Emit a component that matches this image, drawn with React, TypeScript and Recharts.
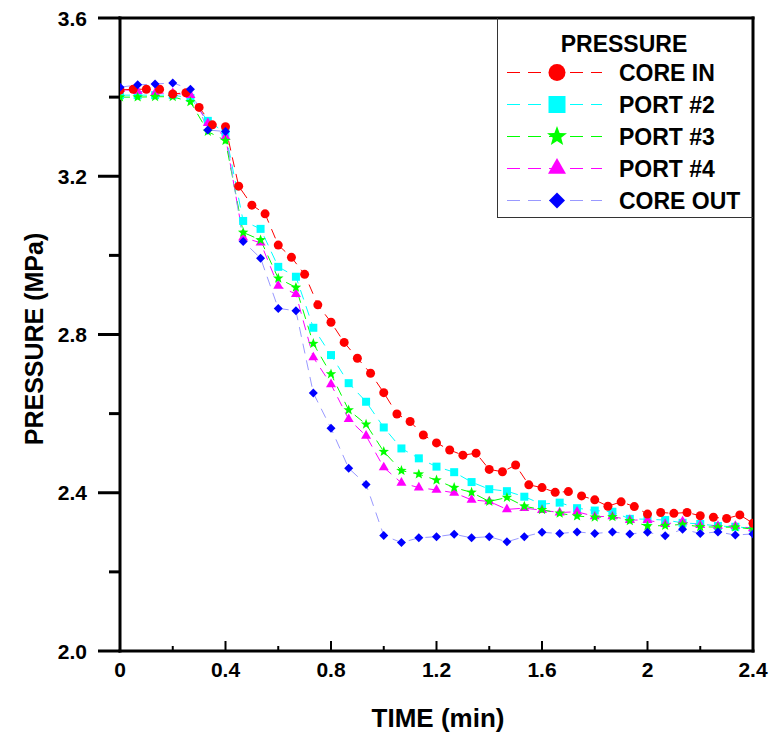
import { LineChart, Line, XAxis, YAxis, Legend, ReferenceLine, Label } from 'recharts';

// time axis of the CORE IN logger (every 3 s) and of the port loggers (every 4 s), min
const coreInTime = [
  0, 0.05, 0.1, 0.15, 0.2, 0.25, 0.3, 0.35, 0.4, 0.45, 0.5, 0.55, 0.6, 0.65, 0.7, 0.75, 0.8,
  0.85, 0.9, 0.95, 1.0, 1.05, 1.1, 1.15, 1.2, 1.25, 1.3, 1.35, 1.4, 1.45, 1.5, 1.55, 1.6,
  1.65, 1.7, 1.75, 1.8, 1.85, 1.9, 1.95, 2.0, 2.05, 2.1, 2.15, 2.2, 2.25, 2.3, 2.35, 2.4,
];
const portTime = [
  0, 0.067, 0.133, 0.2, 0.267, 0.333, 0.4, 0.467, 0.533, 0.6, 0.667, 0.733, 0.8, 0.867,
  0.933, 1.0, 1.067, 1.133, 1.2, 1.267, 1.333, 1.4, 1.467, 1.533, 1.6, 1.667, 1.733, 1.8,
  1.867, 1.933, 2.0, 2.067, 2.133, 2.2, 2.267, 2.333, 2.4,
];

// pressures, MPa
const coreIn = [
  3.418, 3.42, 3.42, 3.42, 3.408, 3.411, 3.374, 3.33, 3.325, 3.175, 3.127, 3.105, 3.026,
  2.995, 2.952, 2.875, 2.831, 2.78, 2.74, 2.702, 2.653, 2.599, 2.58, 2.546, 2.526, 2.508,
  2.495, 2.5, 2.459, 2.453, 2.47, 2.42, 2.413, 2.401, 2.403, 2.392, 2.382, 2.366, 2.377,
  2.365, 2.346, 2.35, 2.348, 2.35, 2.342, 2.338, 2.335, 2.344, 2.323,
];
const port2 = [
  3.405, 3.405, 3.405, 3.405, 3.398, 3.34, 3.31, 3.087, 3.067, 2.971, 2.946, 2.817, 2.748,
  2.677, 2.63, 2.565, 2.512, 2.487, 2.466, 2.452, 2.427, 2.409, 2.404, 2.39, 2.371, 2.375,
  2.361, 2.355, 2.352, 2.334, 2.333, 2.331, 2.324, 2.321, 2.316, 2.314, 2.31,
];
const port3 = [
  3.4, 3.4, 3.401, 3.401, 3.388, 3.313, 3.29, 3.058, 3.039, 2.942, 2.919, 2.777, 2.7, 2.609,
  2.573, 2.504, 2.456, 2.447, 2.432, 2.413, 2.401, 2.378, 2.388, 2.366, 2.357, 2.348, 2.341,
  2.338, 2.339, 2.329, 2.316, 2.317, 2.32, 2.314, 2.313, 2.313, 2.308,
];
const port4 = [
  3.42, 3.415, 3.41, 3.41, 3.405, 3.334, 3.3, 3.045, 3.032, 2.923, 2.902, 2.742, 2.674,
  2.586, 2.544, 2.464, 2.425, 2.413, 2.407, 2.4, 2.382, 2.378, 2.358, 2.361, 2.356, 2.35,
  2.352, 2.34, 2.34, 2.331, 2.331, 2.321, 2.327, 2.318, 2.316, 2.316, 2.31,
];
const coreOut = [
  3.425, 3.431, 3.433, 3.436, 3.42, 3.317, 3.313, 3.035, 2.993, 2.866, 2.86, 2.652, 2.563,
  2.462, 2.421, 2.292, 2.274, 2.286, 2.289, 2.295, 2.286, 2.289, 2.276, 2.289, 2.3, 2.297,
  2.301, 2.297, 2.301, 2.296, 2.3, 2.291, 2.308, 2.297, 2.301, 2.293, 2.296,
];

const xTicks = [0, 0.2, 0.4, 0.6, 0.8, 1.0, 1.2, 1.4, 1.6, 1.8, 2.0, 2.2, 2.4];
const xTickLabels = ['0', '', '0.4', '', '0.8', '', '1.2', '', '1.6', '', '2', '', '2.4'];
const yTicks = [2.0, 2.2, 2.4, 2.6, 2.8, 3.0, 3.2, 3.4, 3.6];
const yTickLabels = ['2.0', '', '2.4', '', '2.8', '', '3.2', '', '3.6'];

const FONT = '"Liberation Sans", Arial, Helvetica, sans-serif';

const toPoints = (times: number[], values: number[]) =>
  times.map((t, i) => ({ t, p: values[i] }));

// legend order
const series = [
  { name: 'CORE IN', data: toPoints(coreInTime, coreIn), color: '#ff0000', line: '#ff0000', shape: 'circle' },
  { name: 'PORT #2', data: toPoints(portTime, port2), color: '#00ffff', line: '#00ffff', shape: 'square' },
  { name: 'PORT #3', data: toPoints(portTime, port3), color: '#00ff00', line: '#00ff00', shape: 'star' },
  { name: 'PORT #4', data: toPoints(portTime, port4), color: '#ff00ff', line: '#ff00ff', shape: 'triangle' },
  { name: 'CORE OUT', data: toPoints(portTime, coreOut), color: '#0000ff', line: '#9999ff', shape: 'diamond' },
];
// drawing order (last on top)
const drawOrder = ['PORT #2', 'PORT #4', 'PORT #3', 'CORE IN', 'CORE OUT'];

const plotSize: Record<string, number> = { circle: 9, square: 8, star: 11, triangle: 10, diamond: 9 };
const legendSize: Record<string, number> = { circle: 17, square: 17, star: 21, triangle: 18, diamond: 16 };

function Marker({ shape, cx, cy, size, fill }: any) {
  if (cx == null || cy == null) return null;
  const r = size / 2;
  if (shape === 'circle') return <circle cx={cx} cy={cy} r={r} fill={fill} />;
  if (shape === 'square') return <rect x={cx - r} y={cy - r} width={size} height={size} fill={fill} />;
  if (shape === 'diamond')
    return <path d={`M${cx},${cy - r}L${cx + r},${cy}L${cx},${cy + r}L${cx - r},${cy}Z`} fill={fill} />;
  if (shape === 'triangle') {
    const h = size * 0.866;
    return (
      <path
        d={`M${cx},${cy - (2 * h) / 3}L${cx + r},${cy + h / 3}L${cx - r},${cy + h / 3}Z`}
        fill={fill}
      />
    );
  }
  // star
  let d = '';
  for (let i = 0; i < 10; i++) {
    const rr = i % 2 === 0 ? r : r * 0.42;
    const a = -Math.PI / 2 + (i * Math.PI) / 5;
    d += `${i === 0 ? 'M' : 'L'}${cx + rr * Math.cos(a)},${cy + rr * Math.sin(a)}`;
  }
  return <path d={d + 'Z'} fill={fill} />;
}

const YTick = ({ x, y, index }: any) => {
  const label = yTickLabels[index];
  const len = label ? 22 : 11;
  return (
    <g>
      <line x1={x - len} y1={y} x2={x} y2={y} stroke="#000" strokeWidth={3} />
      {label && (
        <text x={x - 33} y={y} textAnchor="end" dominantBaseline="central"
          fontFamily={FONT} fontWeight="bold" fontSize={21} fill="#000">
          {label}
        </text>
      )}
    </g>
  );
};

const XTick = ({ x, y, index }: any) => {
  const label = xTickLabels[index];
  const len = label ? 10 : 5;
  return (
    <g>
      <line x1={x} y1={y} x2={x} y2={y - len} stroke="#000" strokeWidth={2} />
      {label && (
        <text x={x} y={y + 18} textAnchor="middle" dominantBaseline="central"
          fontFamily={FONT} fontWeight="bold" fontSize={21} fill="#000">
          {label}
        </text>
      )}
    </g>
  );
};

const LegendBox = () => (
  <svg width={256} height={201} style={{ display: 'block' }}>
    <line x1={0.5} y1={0} x2={0.5} y2={200} stroke="#333" strokeWidth={1} />
    <line x1={0} y1={199.5} x2={256} y2={199.5} stroke="#333" strokeWidth={1} />
    <text x={127} y={26} textAnchor="middle" dominantBaseline="central"
      fontFamily={FONT} fontWeight="bold" fontSize={23} fill="#000">
      PRESSURE
    </text>
    {series.map((s, i) => {
      const cy = 54.5 + i * 32;
      return (
        <g key={s.name}>
          <line x1={10} y1={cy} x2={105} y2={cy} stroke={s.line} strokeWidth={1} strokeDasharray="13 8" />
          <Marker shape={s.shape} cx={60} cy={cy} size={legendSize[s.shape]} fill={s.color} />
          <text x={122} y={cy} dominantBaseline="central"
            fontFamily={FONT} fontWeight="bold" fontSize={23} fill="#000">
            {s.name}
          </text>
        </g>
      );
    })}
  </svg>
);

export default function App() {
  return (
    <div style={{ position: 'absolute', left: 0, top: 0, background: '#fff' }}>
      <LineChart width={771} height={737} margin={{ top: 18, right: 18, left: 0, bottom: 0 }}>
        <XAxis
          dataKey="t"
          type="number"
          domain={[0, 2.4]}
          ticks={xTicks}
          interval={0}
          allowDataOverflow
          height={86}
          tickSize={0}
          tickMargin={0}
          tickLine={false}
          tick={<XTick />}
          axisLine={{ stroke: '#000', strokeWidth: 3, strokeLinecap: 'square' }}
        >
          <Label
            content={() => (
              <text x={438} y={718} textAnchor="middle" dominantBaseline="central"
                fontFamily={FONT} fontWeight="bold" fontSize={26} fill="#000">
                TIME (min)
              </text>
            )}
          />
        </XAxis>
        <YAxis
          type="number"
          domain={[2.0, 3.6]}
          ticks={yTicks}
          interval={0}
          allowDataOverflow
          width={120}
          tickSize={0}
          tickMargin={0}
          tickLine={false}
          tick={<YTick />}
          axisLine={{ stroke: '#000', strokeWidth: 3, strokeLinecap: 'square' }}
        >
          <Label
            content={() => (
              <text x={34} y={339} textAnchor="middle" dominantBaseline="central"
                transform="rotate(-90, 34, 339)"
                fontFamily={FONT} fontWeight="bold" fontSize={25} fill="#000">
                PRESSURE (MPa)
              </text>
            )}
          />
        </YAxis>
        <ReferenceLine y={3.6} stroke="#000" strokeWidth={3} strokeLinecap="square" />
        <ReferenceLine x={2.4} stroke="#000" strokeWidth={3} strokeLinecap="square" />
        {drawOrder.map((n) => {
          const s = series.find((q) => q.name === n)!;
          return (
            <Line
              key={s.name}
              data={s.data}
              dataKey="p"
              name={s.name}
              type="linear"
              stroke={s.line}
              strokeWidth={1}
              strokeDasharray="10 7"
              isAnimationActive={false}
              activeDot={false}
              dot={(p: any) => (
                <Marker key={`${s.name}-${p.index}`} shape={s.shape} cx={p.cx} cy={p.cy}
                  size={plotSize[s.shape]} fill={s.color} />
              )}
            />
          );
        })}
        <Legend
          layout="vertical"
          align="center"
          verticalAlign="middle"
          wrapperStyle={{ left: 497, top: 18, width: 256, height: 201 }}
          content={() => <LegendBox />}
        />
      </LineChart>
    </div>
  );
}
